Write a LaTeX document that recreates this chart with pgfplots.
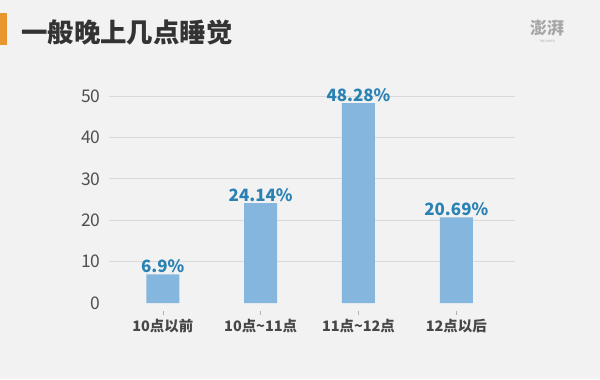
\documentclass[border=0pt]{standalone}
\usepackage{fontspec}
\setmainfont{Noto Sans CJK SC}
\usepackage{pgfplots}
\pgfplotsset{compat=1.18}
\definecolor{bg}{HTML}{F2F2F2}
\definecolor{barc}{HTML}{85B7DE}
\definecolor{lab}{HTML}{2A82B4}
\definecolor{txt}{HTML}{333333}
\definecolor{tick}{HTML}{505050}
\definecolor{gridc}{HTML}{D9D9D9}
\definecolor{org}{HTML}{E8962E}
\begin{document}
\begin{tikzpicture}[x=1bp,y=1bp]
\fill[bg] (0,0) rectangle (600,379);
\fill[org] (0,379-45) rectangle (7,379-13);
\node[anchor=west, font=\fontsize{26.5}{26.5}\selectfont\bfseries, text=txt, inner sep=0] at (21,379-32) {一般晚上几点睡觉};
\node[font=\fontsize{17}{17}\selectfont\bfseries, text=gray!70] at (547,379-28) {澎湃};
\node[font=\fontsize{3}{3}\selectfont, text=gray!70] at (547,379-41) {THE PAPER};
\begin{axis}[
  at={(109bp,76bp)}, anchor=south west,
  scale only axis, width=406bp, height=207bp,
  xmin=-0.55, xmax=3.6, ymin=0, ymax=50,
  ybar, bar width=33bp,
  xtick={0,1,2,3}, xtick pos=bottom,
  xticklabels={10点以前,10点\textasciitilde11点,11点\textasciitilde12点,12点以后},
  ytick={10,20,30,40,50},
  extra y ticks={0}, extra y tick style={grid=none},
  ymajorgrids, grid style={draw=gridc, line width=0.8bp},
  axis line style={draw=none},
  ytick style={draw=none},
  xtick style={draw=gray!60, line width=0.6bp, yshift=-8bp},
  major tick length=4bp, tick align=outside,
  /pgf/number format/assume math mode=true,
  yticklabel style={font=\fontsize{17.5}{17.5}\selectfont, text=tick, xshift=-1bp},
  xticklabel style={font=\fontsize{14.5}{14.5}\selectfont\bfseries, text=txt!90, yshift=-9bp},
  point meta=explicit symbolic,
  nodes near coords,
  every node near coord/.append style={font=\fontsize{17}{17}\selectfont\bfseries, text=lab, inner sep=1.5bp},
  clip=false,
]
\addplot[fill=barc, draw=none] coordinates {
  (0,6.9) [6.9\%]
  (1,24.14) [24.14\%]
  (2,48.28) [48.28\%]
  (3,20.69) [20.69\%]
};
\end{axis}
\end{tikzpicture}
\end{document}
